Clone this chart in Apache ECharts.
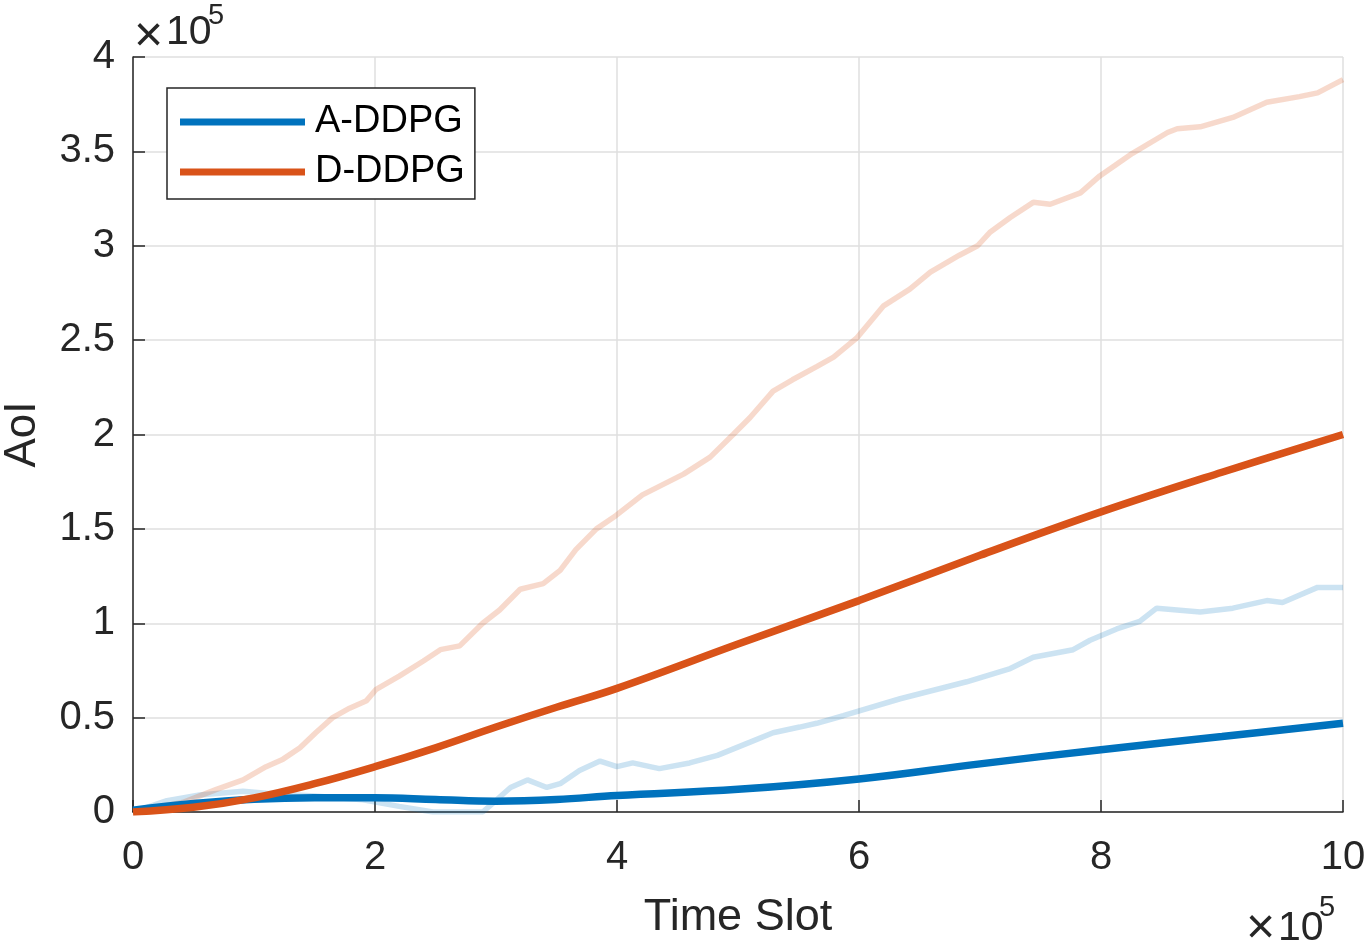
<!DOCTYPE html>
<html>
<head>
<meta charset="utf-8">
<script src="https://cdn.jsdelivr.net/npm/echarts@6/dist/echarts.min.js"></script>
<style>
html,body{margin:0;padding:0;background:#fff;}
#chart{width:1368px;height:942px;}
</style>
</head>
<body>
<div id="chart"></div>
<script>
// Values in units of 10^5
const seriesNames = ['A-DDPG', 'D-DDPG'];
const xTicks = [0, 2, 4, 6, 8, 10];
const yTicks = [0, 0.5, 1, 1.5, 2, 2.5, 3, 3.5, 4];

// raw (faint) D-DDPG curve
const dRawX = [0,0.41,0.69,0.91,1.10,1.24,1.38,1.51,1.65,1.79,1.93,2.01,2.20,2.40,2.54,2.70,2.89,3.03,3.20,3.39,3.53,3.66,3.83,3.99,4.21,4.55,4.77,4.96,5.10,5.29,5.45,5.65,5.79,5.98,6.20,6.42,6.59,6.83,6.98,7.08,7.25,7.44,7.58,7.83,7.99,8.26,8.55,8.63,8.82,9.09,9.37,9.64,9.79,10];
const dRawY = [0,0.05,0.12,0.17,0.24,0.28,0.34,0.42,0.50,0.55,0.59,0.65,0.72,0.80,0.86,0.88,1.00,1.07,1.18,1.21,1.28,1.39,1.50,1.57,1.68,1.79,1.88,2.00,2.09,2.23,2.29,2.36,2.41,2.51,2.68,2.77,2.86,2.95,3.00,3.07,3.15,3.23,3.22,3.28,3.37,3.49,3.60,3.62,3.63,3.68,3.76,3.79,3.81,3.88];

// raw (faint) A-DDPG curve
const aRawX = [0,0.28,0.55,0.91,1.10,1.50,1.90,2.20,2.48,2.89,2.98,3.12,3.26,3.42,3.53,3.69,3.86,4.00,4.13,4.35,4.60,4.83,5.10,5.29,5.51,5.65,5.87,6.34,6.89,7.25,7.44,7.77,7.91,8.13,8.32,8.46,8.82,9.09,9.37,9.50,9.79,10];
const aRawY = [0,0.06,0.09,0.11,0.10,0.085,0.065,0.03,0.0,0.0,0.05,0.13,0.17,0.13,0.15,0.22,0.27,0.24,0.26,0.23,0.26,0.30,0.37,0.42,0.45,0.47,0.51,0.60,0.69,0.76,0.82,0.86,0.91,0.97,1.01,1.08,1.06,1.08,1.12,1.11,1.19,1.19];

// smoothed (thick) curves
const smoothX = [0,0.5,1,1.5,2,2.5,3,3.5,4,5,6,7,8,9,10];
const aSmooth = [0.01,0.045,0.068,0.076,0.075,0.066,0.057,0.066,0.088,0.12,0.175,0.255,0.33,0.40,0.47];
const dSmooth = [0,0.025,0.075,0.15,0.24,0.34,0.45,0.555,0.655,0.89,1.12,1.36,1.59,1.80,2.0];

const blue = '#0072BD';
const orange = '#D95319';
const font = '"Liberation Sans", Arial, Helvetica, sans-serif';
const axisColor = '#262626';

function pairs(xs, ys) { return xs.map((x, i) => [x, ys[i]]); }

const chart = echarts.init(document.getElementById('chart'), null, {renderer: 'canvas'});
chart.setOption({
  animation: false,
  backgroundColor: '#ffffff',
  grid: {left: 133, right: 25, top: 57, bottom: 130, containLabel: false, outerBoundsMode: 'none'},
  legend: {
    data: seriesNames,
    orient: 'vertical',
    left: 167,
    top: 88,
    icon: 'rect',
    itemWidth: 125,
    itemHeight: 7,
    itemGap: 6,
    padding: [12, 10, 5, 13],
    borderColor: axisColor,
    borderWidth: 1.5,
    backgroundColor: '#ffffff',
    textStyle: {fontFamily: font, fontSize: 38, color: '#000', lineHeight: 44, padding: [0, 0, 0, 5]}
  },
  xAxis: {
    type: 'value', min: 0, max: 10, interval: 2,
    name: 'Time Slot', nameLocation: 'middle', nameGap: 83,
    nameTextStyle: {fontFamily: font, fontSize: 45, color: axisColor},
    axisLine: {show: true, lineStyle: {color: axisColor, width: 1.5}},
    axisTick: {show: true, inside: true, length: 12, lineStyle: {color: axisColor, width: 1.5}},
    axisLabel: {fontFamily: font, fontSize: 40, color: axisColor, margin: 26,
      formatter: v => xTicks.includes(v) ? String(v) : ''},
    splitLine: {show: true, lineStyle: {color: '#dfdfdf', width: 1.5}}
  },
  yAxis: {
    type: 'value', min: 0, max: 4, interval: 0.5,
    name: 'AoI', nameLocation: 'middle', nameGap: 88, nameRotate: 90,
    nameTextStyle: {fontFamily: font, fontSize: 44, color: axisColor},
    axisLine: {show: true, lineStyle: {color: axisColor, width: 1.5}},
    axisTick: {show: true, inside: true, length: 12, lineStyle: {color: axisColor, width: 1.5}},
    axisLabel: {fontFamily: font, fontSize: 40, color: axisColor, margin: 18,
      formatter: v => yTicks.includes(v) ? String(v) : ''},
    splitLine: {show: true, lineStyle: {color: '#dfdfdf', width: 1.5}}
  },
  series: [
    {name: 'A-DDPG raw', type: 'line', data: pairs(aRawX, aRawY), showSymbol: false, silent: true,
      lineStyle: {color: blue, width: 5.5, opacity: 0.2}, itemStyle: {color: blue}, z: 2},
    {name: 'D-DDPG raw', type: 'line', data: pairs(dRawX, dRawY), showSymbol: false, silent: true,
      lineStyle: {color: orange, width: 5.5, opacity: 0.22}, itemStyle: {color: orange}, z: 2},
    {name: seriesNames[0], type: 'line', data: pairs(smoothX, aSmooth), showSymbol: false, smooth: 0.4,
      lineStyle: {color: blue, width: 7.5}, itemStyle: {color: blue}, z: 3},
    {name: seriesNames[1], type: 'line', data: pairs(smoothX, dSmooth), showSymbol: false, smooth: 0.4,
      lineStyle: {color: orange, width: 7.5}, itemStyle: {color: orange}, z: 4}
  ],
  graphic: [
    {type: 'text', left: 134, top: 12, style: {text: '×', font: '50px ' + font, fill: axisColor}},
    {type: 'text', left: 166, top: 12, style: {text: '10', font: '41px ' + font, fill: axisColor}},
    {type: 'text', left: 208, top: 1, style: {text: '5', font: '29px ' + font, fill: axisColor}},
    {type: 'text', left: 1246, top: 904, style: {text: '×', font: '50px ' + font, fill: axisColor}},
    {type: 'text', left: 1278, top: 908, style: {text: '10', font: '41px ' + font, fill: axisColor}},
    {type: 'text', left: 1319, top: 893, style: {text: '5', font: '29px ' + font, fill: axisColor}}
  ]
});
</script>
</body>
</html>
